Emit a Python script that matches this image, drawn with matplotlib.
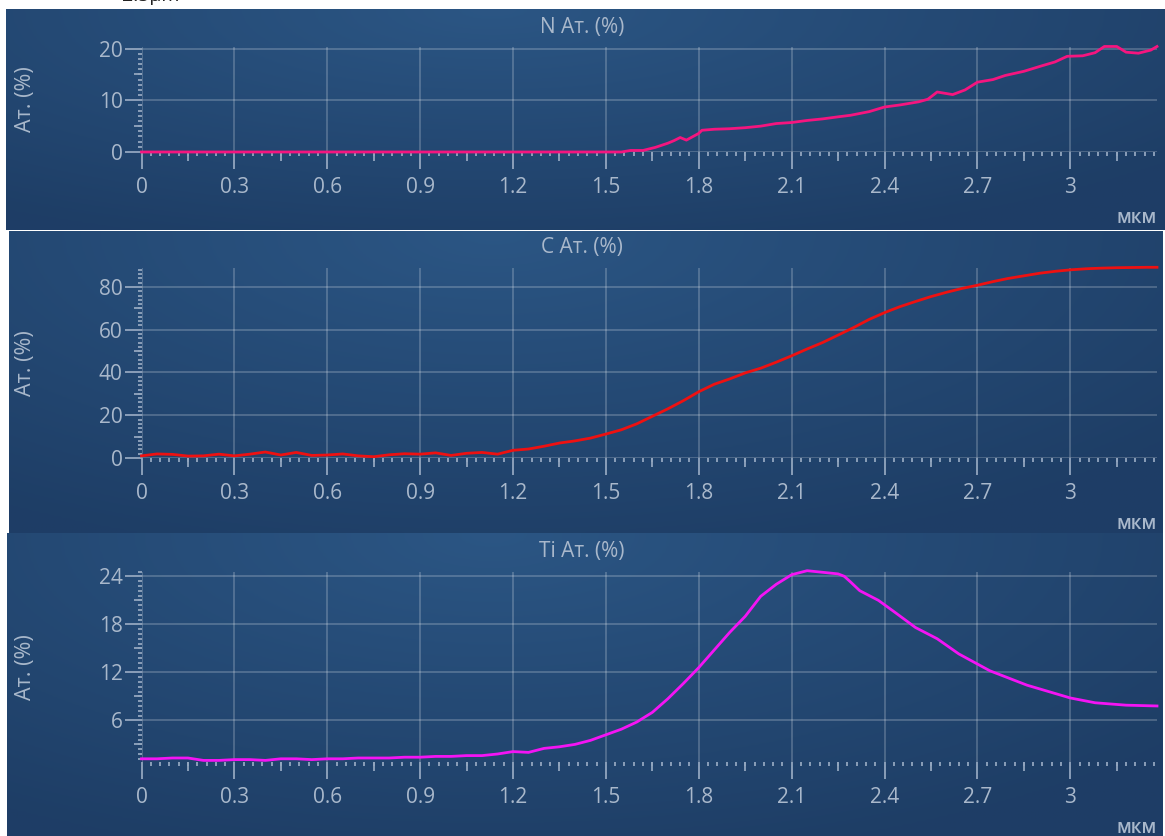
import numpy as np
import matplotlib.pyplot as plt
from matplotlib.ticker import MultipleLocator, FixedLocator, FuncFormatter

plt.rcParams['font.family'] = ['Open Sans', 'DejaVu Sans']

# depth, um
n_x = [0, 0.5, 1.0, 1.55, 1.58, 1.62, 1.66, 1.70, 1.72, 1.74, 1.76, 1.80, 1.81,
       1.85, 1.90, 1.95, 2.00, 2.05, 2.10, 2.15, 2.20, 2.25, 2.29, 2.35, 2.40,
       2.45, 2.51, 2.54, 2.57, 2.62, 2.66, 2.70, 2.75, 2.79, 2.85, 2.91, 2.95,
       2.99, 3.04, 3.08, 3.11, 3.15, 3.18, 3.22, 3.26, 3.28]
n_y = [0, 0, 0, 0, 0.3, 0.3, 0.9, 1.7, 2.2, 2.8, 2.3, 3.6, 4.2,
       4.4, 4.5, 4.7, 5.0, 5.5, 5.7, 6.1, 6.4, 6.8, 7.1, 7.8, 8.7,
       9.1, 9.7, 10.2, 11.6, 11.1, 12.0, 13.5, 14.0, 14.8, 15.6, 16.7, 17.4,
       18.5, 18.6, 19.2, 20.4, 20.4, 19.3, 19.1, 19.7, 20.4]

c_x = [0.00, 0.05, 0.10, 0.15, 0.20, 0.25, 0.30, 0.35, 0.40, 0.45, 0.50, 0.55,
       0.60, 0.65, 0.70, 0.75, 0.80, 0.85, 0.90, 0.95, 1.00, 1.05, 1.10, 1.15,
       1.20, 1.25, 1.30, 1.35, 1.40, 1.45, 1.50, 1.55, 1.60, 1.65, 1.70, 1.75,
       1.80, 1.85, 1.90, 1.95, 2.00, 2.05, 2.10, 2.15, 2.20, 2.25, 2.30, 2.35,
       2.40, 2.45, 2.50, 2.55, 2.60, 2.65, 2.70, 2.75, 2.80, 2.85, 2.90, 2.95,
       3.00, 3.05, 3.10, 3.15, 3.20, 3.25, 3.28]
c_y = [1.0, 1.9, 1.7, 0.9, 1.0, 1.8, 1.0, 1.8, 2.8, 1.4, 2.6, 1.2,
       1.4, 1.9, 1.0, 0.6, 1.5, 2.0, 1.8, 2.4, 1.2, 2.2, 2.6, 1.8,
       3.6, 4.2, 5.5, 7.0, 8.0, 9.3, 11.2, 13.2, 16.0, 19.5, 23.0, 26.8,
       31.0, 34.5, 37.0, 39.8, 42.0, 44.8, 47.8, 51.0, 54.0, 57.5, 61.0, 64.8,
       68.0, 70.8, 73.2, 75.5, 77.5, 79.3, 80.8, 82.5, 84.0, 85.2, 86.4, 87.3,
       88.0, 88.5, 88.8, 89.0, 89.1, 89.2, 89.2]

ti_x = [0.00, 0.05, 0.10, 0.15, 0.20, 0.25, 0.30, 0.35, 0.40, 0.45, 0.50, 0.55,
        0.60, 0.65, 0.70, 0.75, 0.80, 0.85, 0.90, 0.95, 1.00, 1.05, 1.10, 1.15,
        1.20, 1.25, 1.30, 1.35, 1.40, 1.45, 1.50, 1.55, 1.60, 1.65, 1.70, 1.75,
        1.80, 1.85, 1.90, 1.95, 2.00, 2.05, 2.10, 2.15, 2.20, 2.25, 2.27, 2.29,
        2.32, 2.35, 2.38, 2.43, 2.50, 2.57, 2.64, 2.74, 2.86, 3.00, 3.08, 3.18,
        3.28]
ti_y = [1.2, 1.2, 1.3, 1.3, 1.0, 1.0, 1.1, 1.1, 1.0, 1.2, 1.2, 1.1,
        1.2, 1.2, 1.3, 1.3, 1.3, 1.4, 1.4, 1.5, 1.5, 1.6, 1.6, 1.8,
        2.1, 2.0, 2.5, 2.7, 3.0, 3.5, 4.2, 4.9, 5.8, 7.0, 8.7, 10.6,
        12.6, 14.8, 17.0, 19.0, 21.5, 23.0, 24.2, 24.7, 24.5, 24.3, 24.0, 23.3,
        22.2, 21.6, 21.0, 19.6, 17.6, 16.2, 14.3, 12.2, 10.4, 8.8, 8.2, 7.9,
        7.8]

titles = ['N Ат. (%)', 'C Ат. (%)', 'Ti Ат. (%)']
colors = ['#f5157f', '#ee1111', '#f414f4']
y_steps = [10, 20, 6]
y_lims = [(0, 20.3), (0, 89.1), (0.8, 24.6)]
x_lim = (0, 3.28)

W, H = 1165, 836
TXT = '#a9b8cb'
TICK = '#93a6bf'

# pixel boxes: panel background, axes top/bottom
panel_box = [(6, 9, 1165, 230), (9, 231, 1163, 533), (7, 533, 1163, 836)]
axes_tb = [(47, 152), (267.5, 458), (571.5, 762)]
ax_l, ax_r = 141.5, 1157

fig = plt.figure(figsize=(W / 100, H / 100), dpi=100, facecolor='white')


def rect(x0, y0, x1, y1):
    return [x0 / W, 1 - y1 / H, (x1 - x0) / W, (y1 - y0) / H]


light = np.array([0.170, 0.337, 0.518])
dark = np.array([0.118, 0.243, 0.400])
yy, xx = np.mgrid[0:1:120j, 0:1:300j]
dist = np.clip(np.sqrt(((xx - 0.42) / 0.75) ** 2 + (yy / 1.1) ** 2), 0, 1)
grad = light[None, None, :] * (1 - dist[..., None]) + dark[None, None, :] * dist[..., None]

fmt = FuncFormatter(lambda v, _: f"{round(v, 3):g}")

for i in range(3):
    px0, py0, px1, py1 = panel_box[i]
    bg = fig.add_axes(rect(px0, py0, px1, py1), zorder=0)
    bg.imshow(grad, aspect='auto', extent=(0, 1, 0, 1), origin='upper')
    bg.axis('off')

    top, bot = axes_tb[i]
    ax = fig.add_axes(rect(ax_l, top, ax_r, bot), zorder=1, facecolor='none')
    xs, ys = [n_x, c_x, ti_x][i], [n_y, c_y, ti_y][i]
    ax.plot(xs, ys, color=colors[i], lw=2.0, solid_joinstyle='round', zorder=3,
            clip_on=False)
    ax.set_xlim(*x_lim)
    ax.set_ylim(*y_lims[i])

    step = y_steps[i]
    ax.xaxis.set_major_locator(MultipleLocator(0.3))
    ax.xaxis.set_minor_locator(MultipleLocator(0.03))
    ax.yaxis.set_major_locator(MultipleLocator(step))
    ax.yaxis.set_minor_locator(MultipleLocator(step / 10))
    ax.xaxis.set_major_formatter(fmt)
    ax.yaxis.set_major_formatter(fmt)

    for s in ax.spines.values():
        s.set_visible(False)
    ax.grid(True, which='major', color='white', alpha=0.2, lw=1.4)

    ax.tick_params(axis='x', which='major', direction='out', length=12, width=1.3,
                   color=TICK, labelcolor=TXT, labelsize=15, pad=6)
    ax.tick_params(axis='y', which='major', direction='out', length=12, width=1.3,
                   color=TICK, labelcolor=TXT, labelsize=15, pad=1.5)
    ax.tick_params(which='minor', direction='out', length=3, width=1.3, color=TICK)

    # longer ticks halfway between the major ones
    sx = ax.secondary_xaxis('bottom')
    sx.xaxis.set_major_locator(FixedLocator(np.arange(0.15, x_lim[1], 0.3)))
    sx.tick_params(length=6.5, width=1.3, color=TICK, labelbottom=False)
    sy = ax.secondary_yaxis('left')
    sy.yaxis.set_major_locator(FixedLocator(np.arange(step / 2, y_lims[i][1], step)))
    sy.tick_params(length=5.5, width=1.3, color=TICK, labelleft=False)
    for s in list(sx.spines.values()) + list(sy.spines.values()):
        s.set_visible(False)

    fig.text(582 / W, 1 - (top - 20) / H, titles[i], ha='center', va='center',
             color=TXT, fontsize=15)
    fig.text(25 / W, 1 - (top + bot) / 2 / H, 'Ат. (%)', rotation=90,
             ha='center', va='center', color=TXT, fontsize=15.5)
    fig.text(1157 / W, 1 - (bot + 66) / H, 'мкм', ha='right', va='center',
             color=TXT, fontsize=13.5, fontweight='semibold')

# caption above the panels, only its lower half shows
fig.text(151 / W, 1 + 4 / H, '2.5µm', ha='center', va='center', color='#222222',
         fontsize=14)

fig.savefig('out.png', dpi=100, facecolor='white')
